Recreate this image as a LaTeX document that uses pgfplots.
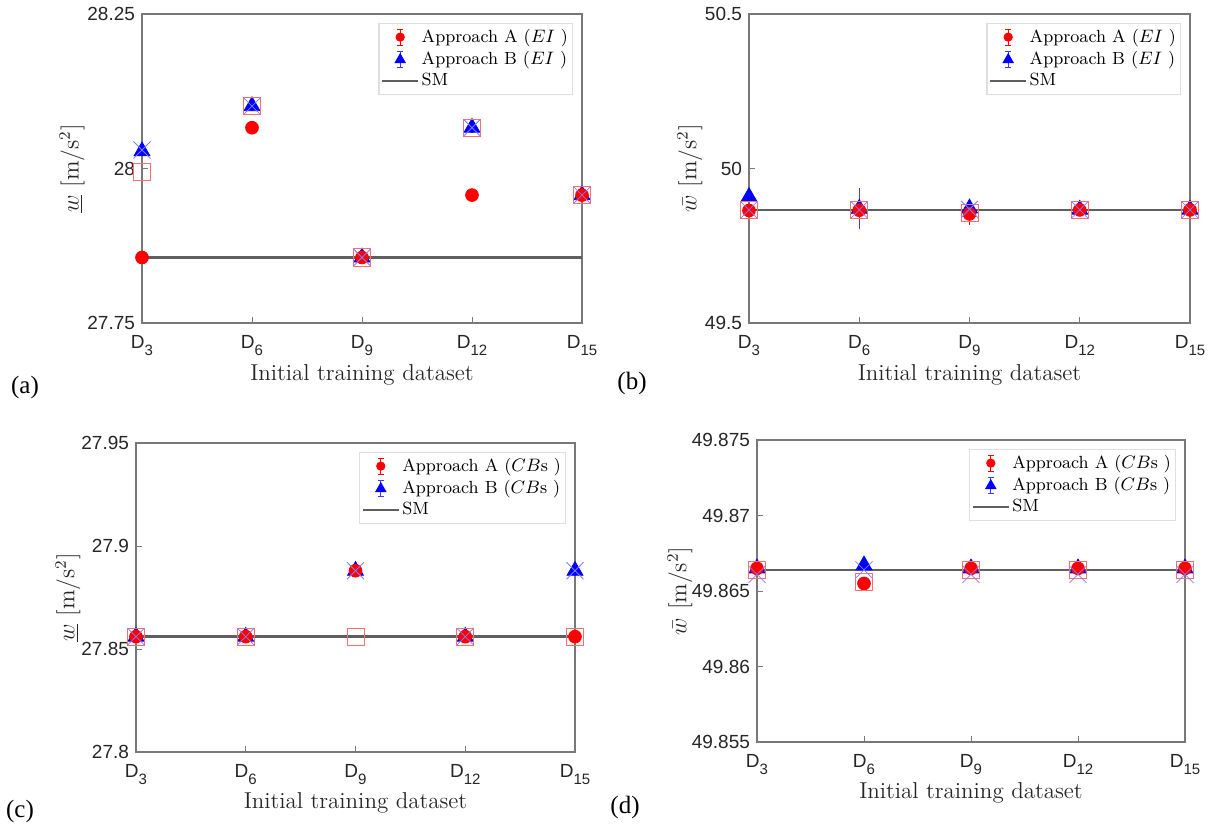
\documentclass[border=0pt]{standalone}
\usepackage{fontspec}
\usepackage{pgfplots}
\pgfplotsset{compat=1.18}
\newfontfamily\arial{Liberation Sans}
\newfontfamily\tnr{Liberation Serif}

\definecolor{axgray}{RGB}{120,120,120}
\definecolor{tickc}{RGB}{38,38,38}
\definecolor{smgray}{RGB}{95,95,95}
\definecolor{sqred}{RGB}{255,110,110}
\definecolor{xblue}{RGB}{125,125,255}
\definecolor{ebblue}{RGB}{60,60,255}

\newcommand{\Dsub}[1]{D\raisebox{-3.5pt}{\fontsize{7.5}{8}\selectfont #1}}

\pgfplotsset{
  panel/.style={
    scale only axis, clip=false,
    xmin=3, xmax=15, xtick={3,6,9,12,15},
    xticklabels={\Dsub{3},\Dsub{6},\Dsub{9},\Dsub{12},\Dsub{15}},
    xticklabel style={yshift=-2.5pt},
    axis line style={draw=axgray, line width=0.7pt},
    every tick/.style={draw=axgray, line width=0.5pt},
    tick align=inside, major tick length=3pt,
    xtick pos=left, ytick pos=left,
    ticklabel style={font=\arial\fontsize{9.5}{11}\selectfont, text=tickc},
    scaled y ticks=false,
    xlabel={Initial training dataset},
    xlabel style={font=\fontsize{11.5}{13}\selectfont, text=tickc,
      at={(axis description cs:0.5,0)}, anchor=center, yshift=-26pt},
    ylabel style={font=\fontsize{12}{14}\selectfont, text=tickc, anchor=center},
    legend style={draw=gray!25, line width=0.6pt, fill=white,
      font=\fontsize{8.8}{10}\selectfont,
      at={(axis description cs:1,1)}, anchor=north east,
      xshift=-4.5pt, yshift=-4.5pt, inner xsep=1pt, inner ysep=1.5pt,
      row sep=0.6pt, nodes={inner sep=1.2pt}},
    legend cell align=left,
  },
  pA/.style={only marks, mark=*, mark size=3.2pt, color=red,
    mark options={draw=red, fill=red},
    error bars/y dir=both, error bars/y explicit,
    error bars/error bar style={draw=red, color=red, line width=0.7pt},
    error bars/error mark options={draw=red, color=red, mark size=2.5pt, line width=0.7pt}},
  pB/.style={only marks, mark=triangle*, mark size=4.6pt, color=blue,
    mark options={draw=blue, fill=blue},
    error bars/y dir=both, error bars/y explicit,
    error bars/error bar style={draw=ebblue, color=ebblue, line width=0.7pt},
    error bars/error mark options={draw=ebblue, color=ebblue, mark size=2.5pt, line width=0.7pt}},
  pS/.style={only marks, mark=square, mark size=4.3pt, color=sqred,
    mark options={line width=0.4pt}},
  pX/.style={only marks, mark=x, mark size=6pt, color=xblue,
    mark options={line width=0.4pt}},
  pSM/.style={smgray, line width=1.2pt, no marks},
  legA/.style={legend image code/.code={
    \draw[red, line width=0.5pt] (9pt,-4pt)--(9pt,4pt)
      (7.5pt,-4pt)--(10.5pt,-4pt) (7.5pt,4pt)--(10.5pt,4pt);
    \fill[red] (9pt,0pt) circle (2pt);}},
  legB/.style={legend image code/.code={
    \draw[ebblue, line width=0.5pt] (9pt,-4pt)--(9pt,4pt)
      (7.5pt,-4pt)--(10.5pt,-4pt) (7.5pt,4pt)--(10.5pt,4pt);
    \fill[blue] (9pt,2.6pt)--(6.6pt,-1.6pt)--(11.4pt,-1.6pt)--cycle;}},
  legSM/.style={legend image code/.code={
    \draw[smgray, line width=1.1pt] (0pt,0pt)--(18pt,0pt);}},
}

\begin{document}
\begin{tikzpicture}
\path[use as bounding box] (0pt,0pt) rectangle (607.5pt,-417pt);

% (a)
\begin{axis}[panel, at={(71pt,-161.5pt)}, anchor=south west,
  width=220pt, height=154.5pt,
  ymin=27.75, ymax=28.25, ytick={27.75,28,28.25}, yticklabels={27.75,28,28.25},
  ylabel={$\underline{w}$ [m/s$^2$]},
  ylabel style={at={(axis description cs:-0.159,0.5)}}]
\addplot[pSM, forget plot] coordinates {(3,27.856) (15,27.856)};
\addplot[pB, forget plot] coordinates {(3,28.028) +- (0,0) (6,28.101) +- (0,0) (9,27.856) +- (0,0) (12,28.066) +- (0,0) (15,27.957) +- (0,0)};
\addplot[pA, forget plot] coordinates {(3,27.856) +- (0,0) (6,28.066) +- (0,0) (9,27.856) +- (0,0) (12,27.957) +- (0,0) (15,27.957) +- (0,0)};
\addplot[pS, forget plot] coordinates {(3,27.995) (6,28.101) (9,27.856) (12,28.066) (15,27.957)};
\addplot[pX, forget plot] coordinates {(3,28.030) (6,28.101) (9,27.856) (12,28.066) (15,27.957)};
\addlegendimage{legA}\addlegendentry{Approach A ($EI$ )}
\addlegendimage{legB}\addlegendentry{Approach B ($EI$ )}
\addlegendimage{legSM}\addlegendentry{SM}
\end{axis}

% (b)
\begin{axis}[panel, at={(374.5pt,-161.5pt)}, anchor=south west,
  width=220.5pt, height=154.5pt,
  ymin=49.5, ymax=50.5, ytick={49.5,50,50.5}, yticklabels={49.5,50,50.5},
  ylabel={$\bar{w}$ [m/s$^2$]},
  ylabel style={at={(axis description cs:-0.134,0.5)}}]
\addplot[pSM, forget plot] coordinates {(3,49.866) (15,49.866)};
\addplot[pB, forget plot] coordinates {(3,49.908) +- (0,0) (6,49.870) +- (0,0.051) (9,49.871) +- (0,0) (12,49.867) +- (0,0) (15,49.867) +- (0,0)};
\addplot[pA, forget plot] coordinates {(3,49.864) +- (0,0) (6,49.865) +- (0,0) (9,49.853) +- (0,0.02) (12,49.866) +- (0,0) (15,49.866) +- (0,0)};
\addplot[pS, forget plot] coordinates {(3,49.866) (6,49.866) (9,49.856) (12,49.866) (15,49.866)};
\addplot[pX, forget plot] coordinates {(3,49.866) (6,49.866) (9,49.868) (12,49.866) (15,49.866)};
\addlegendimage{legA}\addlegendentry{Approach A ($EI$ )}
\addlegendimage{legB}\addlegendentry{Approach B ($EI$ )}
\addlegendimage{legSM}\addlegendentry{SM}
\end{axis}

% (c)
\begin{axis}[panel, at={(68pt,-376pt)}, anchor=south west,
  width=219.5pt, height=154.5pt,
  ymin=27.8, ymax=27.95, ytick={27.8,27.85,27.9,27.95}, yticklabels={27.8,27.85,27.9,27.95},
  ylabel={$\underline{w}$ [m/s$^2$]},
  xlabel style={yshift=0.5pt},
  ylabel style={at={(axis description cs:-0.155,0.5)}}]
\addplot[pSM, forget plot] coordinates {(3,27.856) (15,27.856)};
\addplot[pB, forget plot] coordinates {(3,27.856) +- (0,0) (6,27.856) +- (0,0) (9,27.888) +- (0,0) (12,27.856) +- (0,0) (15,27.888) +- (0,0)};
\addplot[pA, forget plot] coordinates {(3,27.856) +- (0,0) (6,27.856) +- (0,0) (9,27.888) +- (0,0) (12,27.856) +- (0,0) (15,27.856) +- (0,0)};
\addplot[pS, forget plot] coordinates {(3,27.856) (6,27.856) (9,27.856) (12,27.856) (15,27.856)};
\addplot[pX, forget plot] coordinates {(3,27.856) (6,27.856) (9,27.888) (12,27.856) (15,27.888)};
\addlegendimage{legA}\addlegendentry{Approach A ($CB$s )}
\addlegendimage{legB}\addlegendentry{Approach B ($CB$s )}
\addlegendimage{legSM}\addlegendentry{SM}
\end{axis}

% (d)
\begin{axis}[panel, at={(378.5pt,-371pt)}, anchor=south west,
  width=214pt, height=151pt,
  ymin=49.855, ymax=49.875, ytick={49.855,49.86,49.865,49.87,49.875},
  yticklabels={49.855,49.86,49.865,49.87,49.875},
  ylabel={$\bar{w}$ [m/s$^2$]},
  xlabel style={yshift=0.5pt},
  ylabel style={at={(axis description cs:-0.18,0.5)}}]
\addplot[pSM, forget plot] coordinates {(3,49.8664) (15,49.8664)};
\addplot[pB, forget plot] coordinates {(3,49.8665) +- (0,0) (6,49.8667) +- (0,0) (9,49.8665) +- (0,0) (12,49.8665) +- (0,0) (15,49.8665) +- (0,0)};
\addplot[pA, forget plot] coordinates {(3,49.8665) +- (0,0) (6,49.8655) +- (0,0) (9,49.8665) +- (0,0) (12,49.8665) +- (0,0) (15,49.8665) +- (0,0)};
\addplot[pS, forget plot] coordinates {(3,49.8664) (6,49.8656) (9,49.8664) (12,49.8664) (15,49.8664)};
\addplot[pX, forget plot] coordinates {(3,49.8661) (6,49.8664) (9,49.8661) (12,49.8661) (15,49.8661)};
\addlegendimage{legA}\addlegendentry{Approach A ($CB$s )}
\addlegendimage{legB}\addlegendentry{Approach B ($CB$s )}
\addlegendimage{legSM}\addlegendentry{SM}
\end{axis}

\node[font=\tnr\fontsize{12.5}{14}\selectfont] at (12.5pt,-193.5pt) {(a)};
\node[font=\tnr\fontsize{12.5}{14}\selectfont] at (316pt,-191.5pt) {(b)};
\node[font=\tnr\fontsize{12.5}{14}\selectfont] at (10pt,-405.5pt) {(c)};
\node[font=\tnr\fontsize{12.5}{14}\selectfont] at (312.5pt,-403.5pt) {(d)};
\end{tikzpicture}
\end{document}
